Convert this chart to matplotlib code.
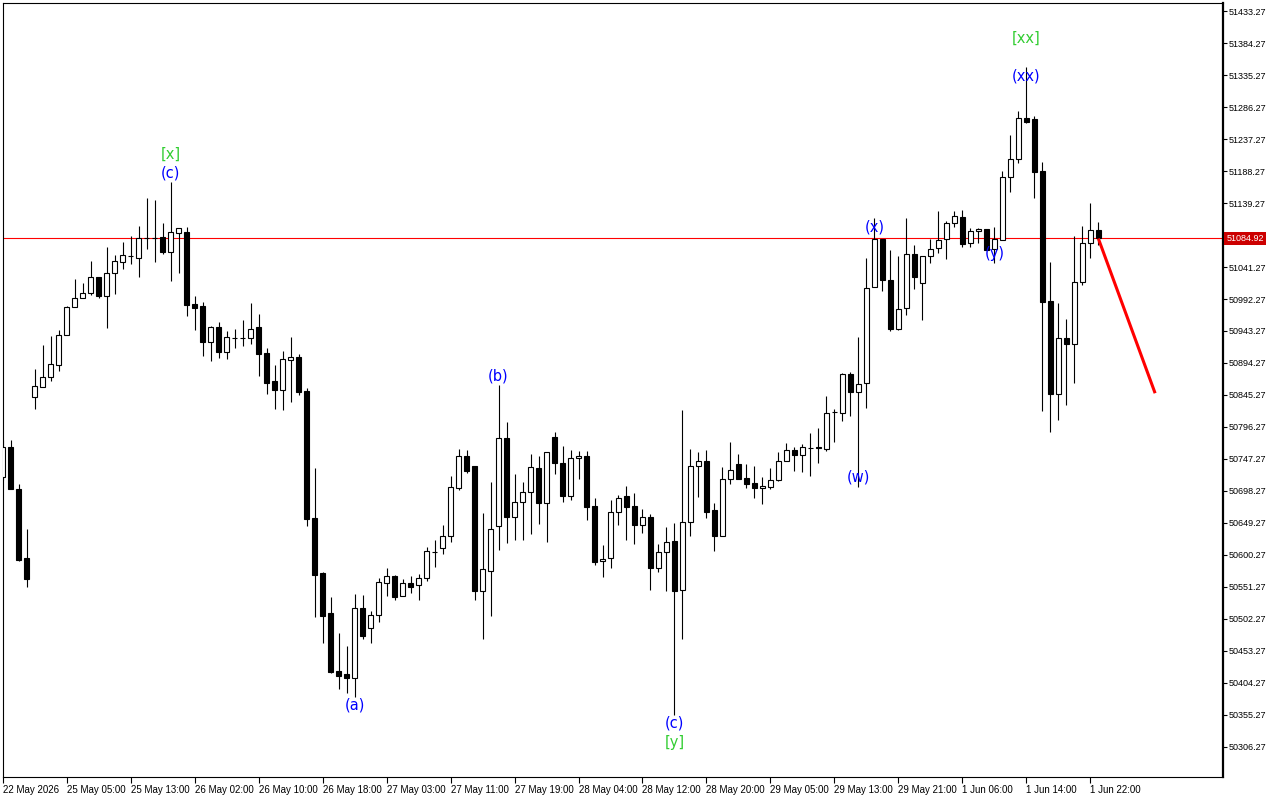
import numpy as np
import matplotlib.pyplot as plt
import matplotlib.transforms as mtransforms

# H1 candles (price units)
opens = [50719.7, 50765.7, 50701.3, 50595.7, 50842.2, 50857.5, 50872.8, 50891.2, 50937.2, 50980.0,
         50993.8, 51001.5, 51026.0, 50996.9, 51032.1, 51048.9, 51058.1, 51055.1, 51085.7, 51085.7,
         51087.2, 51064.2, 51093.3, 51094.9, 50984.6, 50981.6, 50926.4, 50949.4, 50911.1, 50932.6,
         50932.6, 50932.6, 50949.4, 50909.6, 50866.7, 50852.9, 50898.9, 50903.5, 50851.4, 50656.9,
         50572.7, 50511.5, 50422.7, 50418.1, 50412.0, 50519.1, 50488.5, 50508.4, 50557.4, 50568.1,
         50537.5, 50557.4, 50554.4, 50565.1, 50604.9, 50611.0, 50629.4, 50702.9, 50751.9, 50736.6,
         50545.2, 50575.8, 50644.7, 50779.4, 50658.5, 50681.4, 50696.8, 50733.5, 50679.9, 50781.0,
         50741.2, 50690.6, 50748.8, 50751.9, 50675.3, 50591.1, 50595.7, 50666.1, 50690.6, 50675.3,
         50646.2, 50658.5, 50580.4, 50604.9, 50621.7, 50546.7, 50650.8, 50736.6, 50744.2, 50669.2,
         50629.4, 50716.7, 50739.6, 50718.2, 50710.5, 50702.9, 50704.4, 50715.1, 50744.2, 50761.1,
         50753.4, 50764.1, 50765.7, 50762.6, 50819.2, 50817.7, 50877.4, 50849.9, 50863.7, 51010.7,
         51084.1, 51021.4, 50946.3, 50978.5, 51061.2, 51016.8, 51058.1, 51070.4, 51084.1, 51108.6,
         51117.8, 51078.0, 51096.4, 51099.5, 51068.8, 51082.6, 51179.1, 51206.6, 51269.4, 51267.9,
         51188.3, 50989.2, 50846.8, 50932.6, 50923.4, 51018.3, 51078.0, 51097.9]

highs = [50776.4, 50776.4, 50709.0, 50640.1, 50885.1, 50921.8, 50935.6, 50944.8, 50981.6, 51022.9,
         51016.8, 51050.5, 51026.0, 51071.9, 51059.6, 51079.6, 51088.7, 51104.1, 51146.9, 51143.9,
         51108.6, 51171.4, 51101.0, 51102.5, 50996.9, 50987.7, 50950.9, 50957.1, 50943.3, 50946.3,
         50960.1, 50986.2, 50969.3, 50917.2, 50891.2, 50912.7, 50934.1, 50908.1, 50856.0, 50733.5,
         50574.3, 50536.0, 50480.9, 50460.9, 50540.6, 50539.0, 50514.5, 50565.1, 50580.4, 50569.7,
         50563.5, 50568.1, 50571.2, 50612.5, 50623.3, 50646.2, 50721.3, 50762.6, 50761.1, 50736.6,
         50664.6, 50712.1, 50860.6, 50803.9, 50724.3, 50712.1, 50754.9, 50751.9, 50758.0, 50788.6,
         50767.2, 50761.1, 50759.5, 50759.5, 50687.6, 50615.6, 50684.5, 50692.2, 50705.9, 50695.2,
         50670.7, 50663.1, 50617.1, 50643.2, 50649.3, 50822.3, 50762.6, 50758.0, 50761.1, 50679.9,
         50735.0, 50773.3, 50754.9, 50739.6, 50736.6, 50719.7, 50733.5, 50758.0, 50771.8, 50765.7,
         50770.3, 50787.1, 50794.8, 50843.7, 50823.8, 50879.0, 50880.5, 50934.1, 51055.1, 51116.3,
         51084.1, 51067.3, 51058.1, 51116.3, 51075.0, 51058.1, 51084.1, 51127.0, 51111.7, 51127.0,
         51128.6, 51101.0, 51101.0, 51099.5, 51102.5, 51188.3, 51243.4, 51280.1, 51347.5, 51272.5,
         51202.1, 51048.9, 50986.2, 50961.7, 51088.7, 51104.1, 51139.3, 51110.2]

lows = [50715.1, 50701.3, 50591.1, 50551.3, 50823.8, 50857.5, 50866.7, 50882.0, 50937.2, 50980.0,
        50993.8, 50998.4, 50993.8, 50947.9, 50999.9, 51038.2, 51045.9, 51026.0, 51068.8, 51048.9,
        51061.2, 51019.8, 51032.1, 50966.2, 50944.8, 50905.0, 50897.3, 50901.9, 50900.4, 50917.2,
        50920.3, 50923.4, 50874.4, 50846.8, 50823.8, 50822.3, 50834.6, 50845.3, 50644.7, 50505.4,
        50465.5, 50419.6, 50395.1, 50389.0, 50382.9, 50471.7, 50465.5, 50497.7, 50537.5, 50531.4,
        50537.5, 50542.1, 50531.4, 50560.5, 50581.9, 50601.8, 50620.2, 50699.8, 50725.8, 50531.4,
        50471.7, 50506.9, 50607.9, 50618.7, 50623.3, 50623.3, 50632.4, 50647.8, 50620.2, 50724.3,
        50681.4, 50684.5, 50716.7, 50653.9, 50585.0, 50566.6, 50580.4, 50646.2, 50623.3, 50617.1,
        50634.0, 50546.7, 50574.3, 50545.2, 50355.3, 50471.7, 50629.4, 50689.1, 50656.9, 50606.4,
        50629.4, 50709.0, 50716.7, 50702.9, 50687.6, 50678.4, 50701.3, 50713.6, 50744.2, 50728.9,
        50727.4, 50721.3, 50741.2, 50759.5, 50773.3, 50805.5, 50813.1, 50704.4, 50825.4, 51010.7,
        51004.5, 50943.3, 50944.8, 50967.8, 51007.6, 50960.1, 51047.4, 51062.7, 51053.5, 51102.5,
        51071.9, 51071.9, 51078.0, 51067.3, 51047.4, 51082.6, 51156.1, 51200.5, 51261.8, 51146.9,
        50820.8, 50788.6, 50807.0, 50830.0, 50863.7, 51013.7, 51055.1, 51075.0]

closes = [50765.7, 50701.3, 50592.6, 50563.5, 50859.1, 50872.8, 50892.7, 50937.2, 50980.0, 50993.8,
          51001.5, 51026.0, 50996.9, 51032.1, 51050.5, 51059.6, 51057.5, 51085.7, 51085.7, 51085.7,
          51064.2, 51094.9, 51101.0, 50983.1, 50978.5, 50926.4, 50949.4, 50911.1, 50934.1, 50932.6,
          50932.6, 50946.3, 50908.1, 50863.7, 50852.9, 50900.4, 50903.5, 50849.9, 50655.4, 50569.7,
          50506.9, 50421.1, 50415.0, 50412.0, 50519.1, 50476.3, 50508.4, 50558.9, 50568.1, 50536.0,
          50557.4, 50551.3, 50565.1, 50606.4, 50604.9, 50629.4, 50704.4, 50751.9, 50728.9, 50545.2,
          50578.9, 50640.1, 50779.4, 50658.5, 50681.4, 50696.8, 50735.0, 50679.9, 50758.0, 50741.2,
          50690.6, 50748.8, 50751.9, 50673.8, 50589.6, 50594.2, 50666.1, 50687.6, 50673.8, 50646.2,
          50658.5, 50580.4, 50604.9, 50620.2, 50545.2, 50650.8, 50736.6, 50744.2, 50666.1, 50629.4,
          50716.7, 50730.4, 50716.7, 50709.0, 50702.9, 50705.9, 50715.1, 50744.2, 50761.1, 50753.4,
          50765.7, 50764.1, 50764.1, 50817.7, 50819.2, 50877.4, 50849.9, 50862.1, 51009.1, 51084.1,
          51021.4, 50946.3, 50977.0, 51061.2, 51026.0, 51058.1, 51068.8, 51082.6, 51108.6, 51119.4,
          51076.5, 51096.4, 51099.5, 51067.3, 51084.1, 51179.1, 51206.6, 51269.4, 51263.3, 51186.7,
          50987.7, 50846.8, 50932.6, 50923.4, 51018.3, 51078.0, 51097.9, 51084.92]

time_labels = ["22 May 2026", "25 May 05:00", "25 May 13:00", "26 May 02:00", "26 May 10:00",
               "26 May 18:00", "27 May 03:00", "27 May 11:00", "27 May 19:00", "28 May 04:00",
               "28 May 12:00", "28 May 20:00", "29 May 05:00", "29 May 13:00", "29 May 21:00",
               "1 Jun 06:00", "1 Jun 14:00", "1 Jun 22:00"]

# Elliott wave marks
wave_text = ["[x]", "(c)", "(a)", "(b)", "(c)", "[y]", "(w)", "(x)", "(y)", "(xx)", "[xx]"]
wave_bar = [21, 21, 44, 62, 84, 84, 107, 109, 124, 128, 128]
wave_price = [51214.3, 51185.2, 50370.6, 50874.4, 50343.0, 50312.4, 50719.7,
              51102.5, 51062.7, 51333.7, 51391.9]
wave_color = ["#32cd32", "#0000ff", "#0000ff", "#0000ff", "#0000ff", "#32cd32",
              "#0000ff", "#0000ff", "#0000ff", "#0000ff", "#32cd32"]

# projected move
proj_bar = [137, 144.1]
proj_price = [51084.92, 50848.0]

last_price = closes[-1]
price_ticks = np.arange(50306.27, 51433.28, 49.0)

fig = plt.figure(figsize=(12.8, 8), dpi=100)
ax = fig.add_axes([2.7 / 1280, 23 / 800, 1220 / 1280, 774.3 / 800])

x = np.arange(len(opens))
o = np.array(opens)
c = np.array(closes)
up = c >= o

ax.vlines(x, lows, highs, color="black", lw=0.8, zorder=2)
ax.bar(x, np.abs(c - o), bottom=np.minimum(o, c), width=0.6,
       color=np.where(up, "white", "black"), edgecolor="black", linewidth=0.8, zorder=3)

ax.axhline(last_price, color="#ff0000", lw=0.8, zorder=1)
ax.plot(proj_bar, proj_price, color="#ff0000", lw=2.2, solid_capstyle="butt", zorder=4)

for t, b, p, col in zip(wave_text, wave_bar, wave_price, wave_color):
    ax.text(b, p, t, color=col, fontsize=10.5, ha="center", va="center",
            family="DejaVu Sans", zorder=5)

ax.set_xlim(0.05, 152.55)
ax.set_ylim(50260.3, 51446.0)

ax.yaxis.tick_right()
ax.set_yticks(price_ticks)
ax.set_yticklabels([f"{v:.2f}" for v in price_ticks], family="Liberation Sans", fontsize=6.5)
ax.tick_params(axis="y", length=3, width=0.8, pad=1, direction="out")

ax.set_xticks(np.arange(0, len(opens), 8))
ax.set_xticklabels(time_labels, family="Liberation Sans", fontsize=7, ha="left")
ax.tick_params(axis="x", length=4, width=0.8, pad=2, direction="out")

for side in ["left", "top", "bottom"]:
    ax.spines[side].set_linewidth(0.8)
ax.spines["right"].set_linewidth(1.6)

trans = mtransforms.blended_transform_factory(ax.transAxes, ax.transData)
ax.text(1.003, last_price, f"{last_price:.2f}", transform=trans, color="white",
        fontsize=6.5, family="Liberation Sans", va="center", ha="left", clip_on=False,
        zorder=10, bbox=dict(boxstyle="square,pad=0.25", fc="#cc0000", ec="none"))

fig.savefig("out.png", dpi=100)
